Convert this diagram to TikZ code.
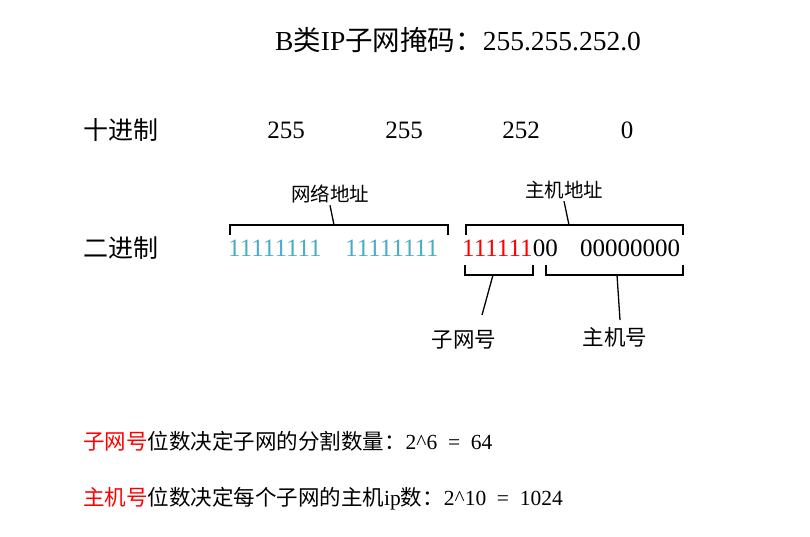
\documentclass[tikz,border=0pt]{standalone}
\usepackage{fontspec}
\setmainfont[WordSpace=2]{Liberation Serif}
\newfontfamily\cjk{Noto Sans CJK SC}
\usetikzlibrary{positioning}
\definecolor{netblue}{RGB}{75,172,198}
\newcommand{\fsz}[1]{\fontsize{#1}{#1}\selectfont}

\begin{document}
\begin{tikzpicture}[
    x=1pt, y=-1pt,
    title/.style={inner sep=0pt, font=\fsz{27.5}},
    rowname/.style={inner sep=0pt, anchor=west, font=\fsz{25}\cjk},
    digits/.style={inner sep=0pt, anchor=west, font=\fsz{25}},
    partlabel/.style={inner sep=2pt, font=\fsz{19.5}\cjk},
    bitlabel/.style={inner sep=2pt, font=\fsz{21.5}\cjk},
    note/.style={inner sep=0pt, anchor=west, font=\fsz{21.5}},
    brace/.style={line width=1.3pt},
    pointer/.style={line width=1.3pt}
]
\useasboundingbox (0,0) rectangle (810,537);

% Nodes
\node[title] (Title) at (458,40) {B{\cjk 类}IP{\cjk 子网掩码：}255.255.252.0};

\node[rowname] (DecName) at (83,130) {十进制};
\node[digits, anchor=center] (Dec1) at (286,130) {255};
\node[digits, anchor=center] (Dec2) at (404,130) {255};
\node[digits, anchor=center] (Dec3) at (521,130) {252};
\node[digits, anchor=center] (Dec4) at (627,130) {0};

\node[rowname] (BinName) at (83,248) {二进制};
\node[digits, text=netblue] (Bin1) at (228,248) {11111111};
\node[digits, text=netblue] (Bin2) at (345,248) {11111111};
\node[digits, text=red] (SubBits) at (462,248) {111111};
\node[digits, right=0pt of SubBits] (HostBitsA) {00};
\node[digits] (HostBitsB) at (580,248) {00000000};

\node[partlabel] (NetLabel) at (330,194) {网络地址};
\node[partlabel] (HostLabel) at (564,190) {主机地址};
\node[bitlabel] (SubLabel) at (464,340) {子网号};
\node[bitlabel] (HostNoLabel) at (615,337) {主机号};

% Brackets
\coordinate (NetMid) at (334,225);
\coordinate (HostMid) at (569,225);
\coordinate (SubMid) at (493,275);
\coordinate (HostNoMid) at (617,275);
\draw[brace] (230,235) -- (230,225) -- (448,225) -- (448,235);
\draw[brace] (466,235) -- (466,225) -- (683,225) -- (683,235);
\draw[brace] (465,265) -- (465,275) -- (533,275) -- (533,265);
\draw[brace] (546,265) -- (546,275) -- (683,275) -- (683,265);

% Pointers
\draw[pointer] (NetMid) -- (NetLabel.south);
\draw[pointer] (HostMid) -- (HostLabel.south);
\draw[pointer] (SubMid) -- (482,315);
\draw[pointer] (HostNoMid) -- (620,320);

% Notes
\node[note] (SubNote) at (83,441) {{\cjk\textcolor{red}{子网号}位数决定子网的分割数量：}2\textasciicircum6 = 64};
\node[note] (HostNote) at (83,499) {{\cjk\textcolor{red}{主机号}位数决定每个子网的主机}ip{\cjk 数：}2\textasciicircum10 = 1024};

\end{tikzpicture}
\end{document}
